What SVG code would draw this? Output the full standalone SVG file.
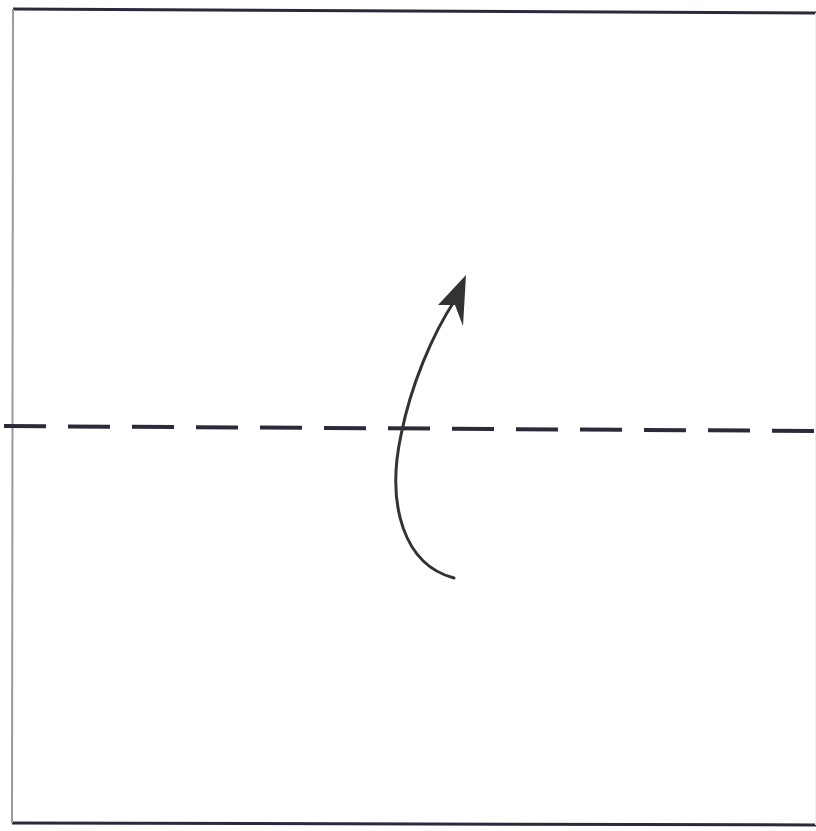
<svg xmlns="http://www.w3.org/2000/svg" width="816" height="831" viewBox="0 0 816 831">
<style>
.edge{stroke:#2a2a3a;stroke-width:3;fill:none}
.side{stroke:#9a9a9a;stroke-width:2;fill:none}
.faint{stroke:#efefe8;stroke-width:1;fill:none}
.fold{stroke:#2a2a3a;stroke-width:4;fill:none;stroke-dasharray:42 22}
.arrow{stroke:#333;stroke-width:3;fill:none;stroke-linecap:round}
</style>
<rect width="816" height="831" fill="#fff"/>
<g id="paper">
<line class="edge" x1="13" y1="9" x2="816" y2="13"/>
<line class="edge" x1="12" y1="823" x2="816" y2="825"/>
<line class="side" x1="13" y1="9" x2="12" y2="823"/>
<line class="faint" x1="815.5" y1="13" x2="815.5" y2="825"/>
</g>
<g id="fold-line">
<line class="fold" x1="4" y1="426" x2="816" y2="431"/>
</g>
<g id="connectors">
<path class="arrow" d="M454,578 C404,565 386,505 401,435 C411,385 432,335 455,300"/>
<polygon points="466,275 463,326 455,305 438,305" fill="#333"/>
</g>
</svg>
